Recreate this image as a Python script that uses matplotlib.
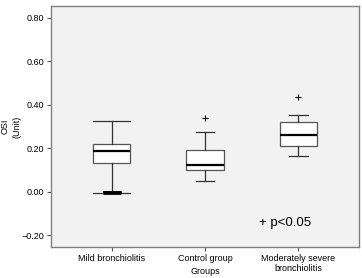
import matplotlib
matplotlib.use('Agg')
import matplotlib.pyplot as plt

plt.rcParams['font.family'] = ['Liberation Sans', 'DejaVu Sans']

groups = ['Mild bronchiolitis', 'Control group', 'Moderately severe\nbronchiolitis']
# box statistics
whislo = [-0.006, 0.051, 0.162]
q1 = [0.130, 0.100, 0.209]
med = [0.188, 0.123, 0.262]
q3 = [0.221, 0.192, 0.322]
whishi = [0.324, 0.275, 0.352]
outliers = [[], [0.338], [0.438]]
mild_low_ties = [0.000, -0.002, -0.004]

stats = []
for i in range(3):
    stats.append(dict(whislo=whislo[i], q1=q1[i], med=med[i], q3=q3[i],
                      whishi=whishi[i], fliers=outliers[i]))

fig = plt.figure(figsize=(3.62, 2.78), dpi=100)
ax = fig.add_axes([51/362, 1 - 247/278, 308/362, 241/278])
ax.set_facecolor('#f2f2f2')

ax.bxp(stats, positions=[1, 2, 3], widths=0.4, patch_artist=True,
       boxprops=dict(facecolor='white', edgecolor='#555555', linewidth=0.9),
       medianprops=dict(color='black', linewidth=1.6),
       whiskerprops=dict(color='#333333', linewidth=0.9),
       capprops=dict(color='#333333', linewidth=0.9),
       capwidths=[0.4, 0.2, 0.2],
       flierprops=dict(marker='+', markeredgecolor='black', markersize=5, markeredgewidth=0.8))

# tied low values in the mild group form a dark blob at the lower whisker
ax.plot([1] * len(mild_low_ties), mild_low_ties, linestyle='none', marker='_',
        markersize=13, markeredgewidth=2, color='black')

ax.set_xlim(0.35, 3.65)
ax.set_ylim(-0.255, 0.855)
ax.set_yticks([-0.2, 0.0, 0.2, 0.4, 0.6, 0.8])
ax.set_yticklabels(['\u22120.20', '0.00', '0.20', '0.40', '0.60', '0.80'])
ax.set_xticks([1, 2, 3])
ax.set_xticklabels(groups)
ax.tick_params(labelsize=6.5, length=3, width=0.8, color='#555555', pad=2)

for s in ax.spines.values():
    s.set_color('#808080')
    s.set_linewidth(1)

ax.set_xlabel('Groups', fontsize=6.5)
ax.xaxis.set_label_coords(0.5, -0.085)
ax.set_ylabel('OSI\n(Unit)', fontsize=6.5, linespacing=1.5)
ax.yaxis.set_label_coords(-0.095, 0.5)

ax.text(2.58, -0.16, '+ p<0.05', fontsize=9.5)

fig.savefig('out.png', dpi=100)
